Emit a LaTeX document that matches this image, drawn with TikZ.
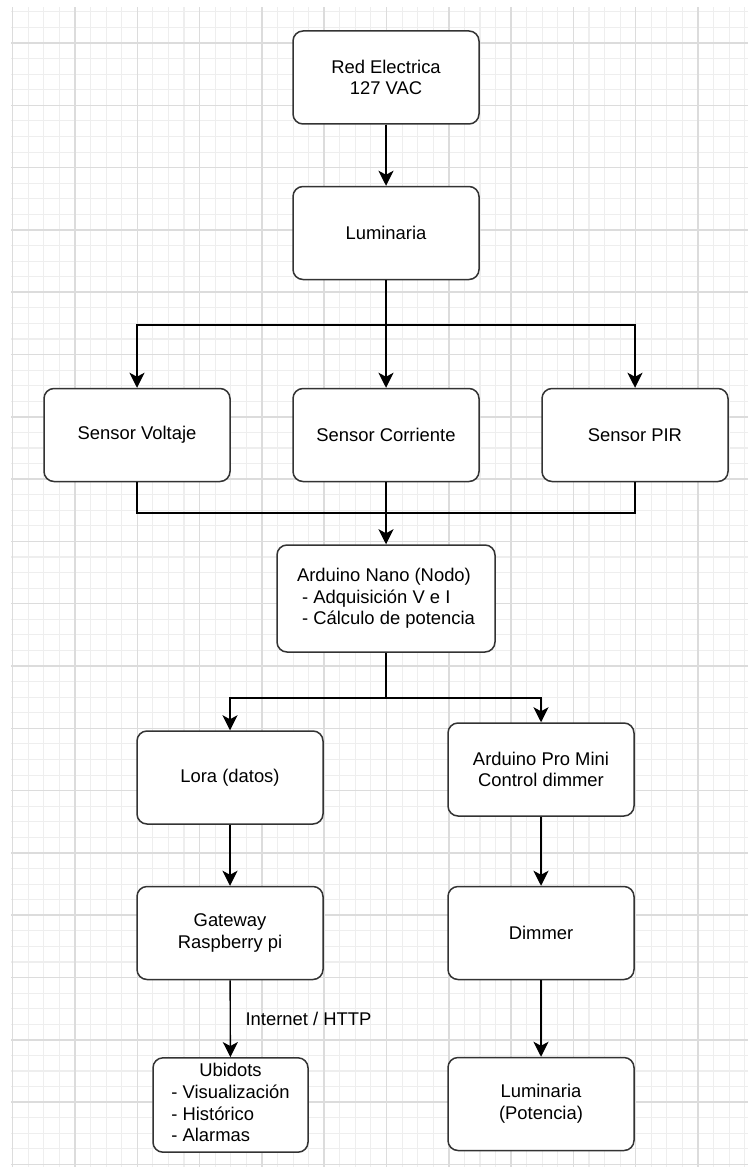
\documentclass[tikz,border=0pt]{standalone}
\usepackage{fontspec}
\setmainfont{Liberation Sans}
\usepackage{xcolor}
\usetikzlibrary{arrows.meta}

\definecolor{gridminor}{HTML}{EEEEEE}
\definecolor{gridmajor}{HTML}{DCDCDC}
\definecolor{boxline}{HTML}{333333}

\begin{document}
\begin{tikzpicture}[x=0.5pt, y=-0.5pt,
    every node/.style={font=\fontsize{9.2}{10.8}\selectfont},
    block/.style={rectangle, rounded corners=5pt, draw=boxline, line width=0.75pt,
        fill=white, minimum width=93pt, minimum height=46.5pt, align=center, inner sep=2pt},
    arrow/.style={-{Stealth[length=7.5pt, width=7.5pt, inset=2pt]}, line width=0.7pt},
    link/.style={line width=0.7pt}]
     \useasboundingbox (0,0) rectangle (748,1172);

     % background grid
     \begin{scope}
       \clip (11,8) rectangle (748,1166);
       \foreach \i in {0,...,50} {
         \draw[gridminor, line width=0.55pt] ({12.7+\i*15.575},0) -- ({12.7+\i*15.575},1172);
       }
       \foreach \i in {0,...,76} {
         \draw[gridminor, line width=0.55pt] (0,{-3.7+\i*15.575}) -- (748,{-3.7+\i*15.575});
       }
       \foreach \i in {0,...,12} {
         \draw[gridmajor, line width=0.75pt] ({12.7+\i*62.3},0) -- ({12.7+\i*62.3},1172);
       }
       \foreach \i in {0,...,19} {
         \draw[gridmajor, line width=0.75pt] (0,{-19.3+\i*62.3}) -- (748,{-19.3+\i*62.3});
       }
     \end{scope}

     \node[block] (red) at (386,77.5) {Red Electrica\\127 VAC};
     \node[block] (lum1) at (386,233) {Luminaria};
     \node[block] (sv) at (137,435) {Sensor Voltaje};
     \node[block] (sc) at (386,435) {Sensor Corriente};
     \node[block] (spir) at (635,435) {Sensor PIR};
     \node[block, minimum width=109pt, minimum height=53.5pt, align=left] (nano) at (386,598.5)
         {Arduino Nano (Nodo)\\ \ - Adquisición V e I\\ \ - Cálculo de potencia};
     \node[block] (lora) at (230,777.5) {Lora (datos)};
     \node[block] (pro) at (541,769.5) {Arduino Pro Mini\\Control dimmer};
     \node[block] (gw) at (230,933) {Gateway\\Raspberry pi};
     \node[block] (dim) at (541,933) {Dimmer};
     \node[block, minimum width=77.5pt, minimum height=47pt] (ubi) at (230.5,1105)
         {\begin{tabular}{@{}l@{}}\multicolumn{1}{@{}c@{}}{Ubidots}\\- Visualización\\- Histórico\\- Alarmas\end{tabular}};
     \node[block] (lum2) at (541,1104) {Luminaria\\(Potencia)};

     \coordinate (split1) at (386,325);
     \coordinate (join1) at (386,513);
     \coordinate (split2) at (386,698);

     \draw[arrow] (red) -- (lum1);
     \draw[arrow] (lum1.south) -- (split1) -| (sv.north);
     \draw[arrow] (split1) -| (spir.north);
     \draw[arrow] (split1) -- (sc.north);
     \draw[link] (sv.south) |- (join1);
     \draw[link] (spir.south) |- (join1);
     \draw[arrow] (sc.south) -- (nano.north);
     \draw[arrow] (nano.south) -- (split2) -| (lora.north);
     \draw[arrow] (split2) -| (pro.north);
     \draw[arrow] (lora) -- (gw);
     \draw[arrow] (gw) -- (ubi) node[midway, right=4pt] (http) {Internet / HTTP};
     \draw[arrow] (pro) -- (dim);
     \draw[arrow] (dim) -- (lum2);
 \end{tikzpicture}
\end{document}
